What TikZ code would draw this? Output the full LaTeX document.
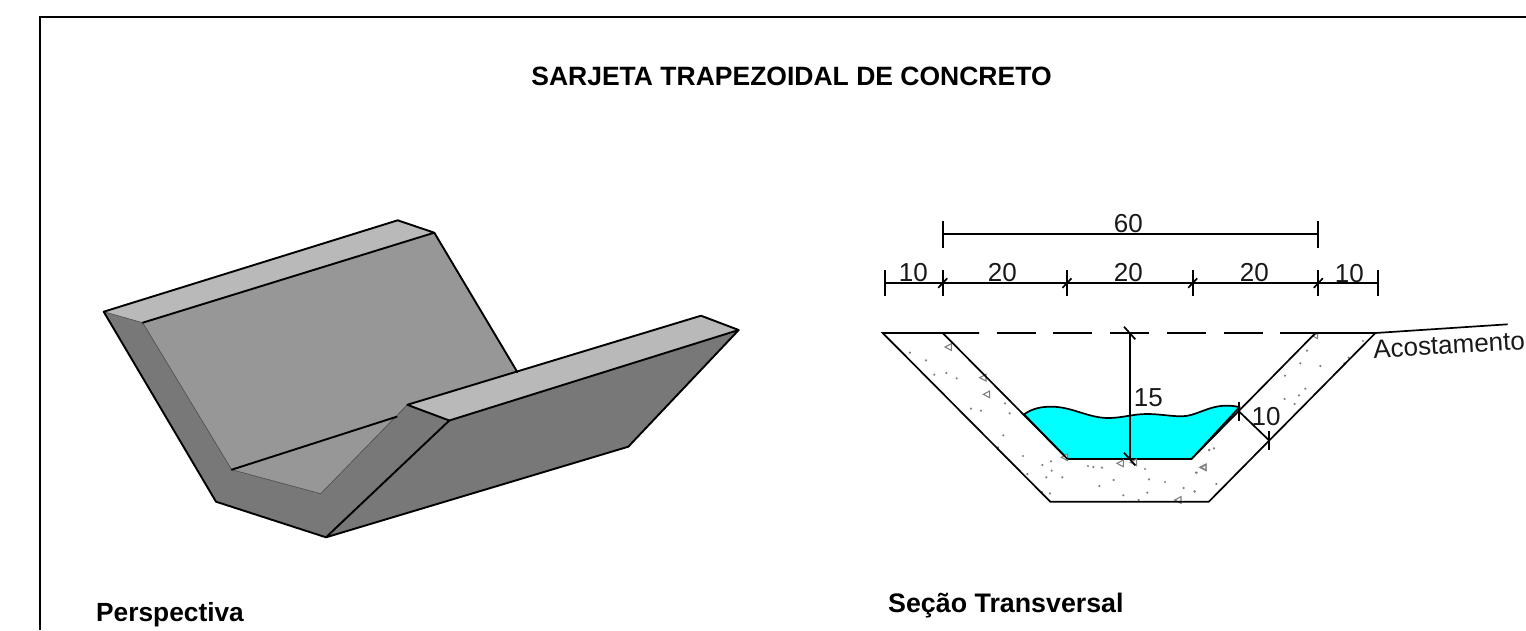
\documentclass[tikz,border=0pt]{standalone}
\usepackage{fontspec}
\setmainfont{Liberation Sans}
\usetikzlibrary{calc}
\definecolor{facelight}{HTML}{B9B9B9}
\definecolor{facemid}{HTML}{979797}
\definecolor{facedark}{HTML}{787878}
\definecolor{water}{HTML}{00FFFF}
\definecolor{aggr}{HTML}{808080}
\tikzset{
  thick line/.style={draw=black,line width=1.9pt,line join=round,line cap=round},
  thin edge/.style={draw=black!75,line width=0.5pt},
  dim/.style={draw=black,line width=1.7pt},
  dim text/.style={font=\fontsize{26}{26}\selectfont,inner sep=0pt,text=black!90},
  title text/.style={font=\bfseries\fontsize{26.5}{30}\selectfont,inner sep=0pt},
  caption text/.style={font=\bfseries\fontsize{26.3}{30}\selectfont,inner sep=0pt},
  caption wide/.style={font=\bfseries\fontsize{26.8}{30}\selectfont,inner sep=0pt},
  section line/.style={draw=black,line width=1.7pt,line join=miter},
  pebble/.style={draw=aggr,line width=1.1pt,fill=white},
}
\newcommand{\slashmark}[1]{\draw[dim] ($(#1)+(-4.5,4.5)$) -- ($(#1)+(4.5,-5)$);}
\begin{document}
\begin{tikzpicture}[x=1pt,y=-1pt]
\useasboundingbox (0,0) rectangle (1526,630);
\fill[white] (0,0) rectangle (1526,630);
% frame
\coordinate (fbl) at (39.5,630);
\coordinate (ftl) at (39.5,17);
\coordinate (ftr) at (1526,17);
\draw[draw=black,line width=2pt] (fbl) -- (ftl) -- (ftr);
% texts
\node[title text,anchor=base] (title) at (791.5,85.5) {SARJETA TRAPEZOIDAL DE CONCRETO};
\node[caption text,anchor=base west] (cap1) at (96,621.5) {Perspectiva};
\node[caption wide,anchor=base west] (cap2) at (888,612.5) {Seção Transversal};
% perspective
\coordinate (A) at (103.7,311.7);
\coordinate (B) at (397.7,220.3);
\coordinate (C) at (434.3,232.7);
\coordinate (D) at (142.7,322.7);
\coordinate (E) at (517.3,372);
\coordinate (F) at (396.7,416.7);
\coordinate (G) at (231.7,469.7);
\coordinate (H) at (320.7,493.7);
\coordinate (I) at (407.3,404.8);
\coordinate (J) at (449.3,420.5);
\coordinate (K) at (326,537.3);
\coordinate (L) at (216,501.7);
\coordinate (M) at (738.7,330);
\coordinate (N) at (628.3,446.7);
\coordinate (O) at (701,315.7);
\fill[facelight] (A) -- (B) -- (C) -- (D) -- cycle;
\fill[facemid] (D) -- (C) -- (E) -- (I) -- (H) -- (G) -- cycle;
\fill[facedark] (A) -- (D) -- (G) -- (H) -- (I) -- (J) -- (K) -- (L) -- cycle;
\fill[facedark] (K) -- (J) -- (M) -- (N) -- cycle;
\fill[facelight] (I) -- (O) -- (M) -- (J) -- cycle;
\draw[thin edge] (A) -- (D) -- (G) -- (H) -- (I);
\draw[thick line] (D) -- (C) -- (B) -- (A) -- (L) -- (K) -- (N) -- (M) -- (O) -- (I) -- (J) -- (M);
\draw[thick line] (C) -- (E);
\draw[thick line] (G) -- (F);
\draw[thick line] (K) -- (J);
% water
\coordinate (wl) at (1024,414.3);
\coordinate (wr) at (1239.3,407.3);
\coordinate (ib) at (1067.5,459);
\coordinate (ic) at (1191.5,459);
\filldraw[fill=water,section line] (wl)
  .. controls (1034,407.5) and (1043,406.7) .. (1051.7,406.7)
  .. controls (1072,406.7) and (1088,418) .. (1108.3,418)
  .. controls (1122,418) and (1133,414) .. (1146.7,414)
  .. controls (1160,414) and (1170,416.3) .. (1181.7,416.3)
  .. controls (1196,416.3) and (1208,405.7) .. (1226,405.7)
  .. controls (1231,405.7) and (1236,406) .. (wr)
  -- (ic) -- (ib) -- cycle;
% aggregate
\begin{scope}[shift={(870,200)},x=0.33333pt,y=-0.33333pt]
\foreach \p in {(120,458),(168,481),(193,524),(229,519),(260,535),(303,626),(333,632),(405,610),(419,640),(400,706),(384,742),(459,768),(517,795),(543,784),(545,812),(529,832),(577,832),(472,822),(516,876),(540,880),(654,798),(670,801),(696,803),(825,807),(837,838),(885,846),(941,864),(974,875),(731,840),(688,858),(760,886),(832,878),(806,900),(980,818),(1017,750)}
  \fill[aggr] \p circle (3.6);
\foreach \p in {(236,441),(340,533),(351,583),(752,790),(792,787),(1000,802),(925,900),(585,772)}
  \draw[pebble,shift={\p}] (-11,0) -- (8,-10) -- (8,10) -- cycle;
\end{scope}
\begin{scope}[shift={(1186,200)},x=0.33333pt,y=-0.33333pt]
\foreach \p in {(531,423),(363,452),(343,490),(403,498),(297,527),(488,473),(475,490),(358,566),(339,586),(296,597),(326,612),(70,750),(84,745),(30,818),(91,852),(26,874)}
  \fill[aggr] \p circle (3.6);
\foreach \p in {(388,408),(53,802)}
  \draw[pebble,shift={\p}] (-8,0) -- (7,-8) -- (7,8) -- cycle;
\end{scope}
% section outline
\coordinate (ol) at (882.7,333);
\coordinate (obl) at (1050.3,501.7);
\coordinate (obr) at (1208.8,501.7);
\coordinate (or) at (1375.4,333);
\coordinate (il) at (942.7,333);
\coordinate (ir) at (1315.5,333);
\coordinate (aco) at (1507.7,324.3);
\draw[section line] (il) -- (ib);
\draw[section line] (ic) -- (ir);
\draw[section line] (aco) -- (or) -- (obr) -- (obl) -- (ol) -- (979,333);
\draw[section line] (1280.3,333) -- (or);
\draw[section line] (996.7,333) -- (1035.7,333) (1053,333) -- (1092,333) (1110,333) -- (1149,333) (1166.7,333) -- (1205.7,333) (1223.7,333) -- (1262.7,333);
% dimensions
\coordinate (d60l) at (942.7,234.3);
\coordinate (d60r) at (1318.3,234.3);
\draw[dim] (d60l) -- (d60r);
\draw[dim] (942.7,221) -- (942.7,247.5);
\draw[dim] (1318.3,221) -- (1318.3,247.5);
\coordinate (r0) at (885,283.3);
\coordinate (r1) at (942.7,283.3);
\coordinate (r2) at (1067,283.3);
\coordinate (r3) at (1192.7,283.3);
\coordinate (r4) at (1318.3,283.3);
\coordinate (r5) at (1377.7,283.3);
\draw[dim] (r0) -- (r5);
\foreach \c in {r0,r1,r2,r3,r4,r5}
  \draw[dim] ($(\c)+(0,-13.3)$) -- ($(\c)+(0,13)$);
\foreach \c in {r1,r2,r3,r4}
  \slashmark{\c}
\coordinate (v1) at (1129.7,333);
\coordinate (v2) at (1129.7,459);
\draw[dim] (v1) -- (v2);
\draw[dim] ($(v1)+(-5.7,-6.3)$) -- ($(v1)+(5.6,6.3)$);
\draw[dim] ($(v2)+(-5.7,-6.3)$) -- ($(v2)+(5.6,6.3)$);
\coordinate (t1) at (1239.3,411.7);
\coordinate (t2) at (1268.7,440);
\draw[dim] (t1) -- (t2);
\draw[dim] (1239.3,401.7) -- (1239.3,420.5);
\draw[dim] (1268.7,431) -- (1268.7,449.5);
% labels
\node[dim text] (n60) at (1128.3,223.3) {60};
\node[dim text] (n10a) at (913.3,272.7) {10};
\node[dim text] (n20a) at (1002.3,272.7) {20};
\node[dim text] (n20b) at (1128.3,272.7) {20};
\node[dim text] (n20c) at (1254.3,272.7) {20};
\node[dim text] (n10b) at (1349.3,273.5) {10};
\node[dim text] (n15) at (1148.3,398) {15};
\node[dim text] (n10c) at (1266,417) {10};
\node[dim text,rotate=3.4] (aco text) at (1449,345) {Acostamento};
\end{tikzpicture}
\end{document}
